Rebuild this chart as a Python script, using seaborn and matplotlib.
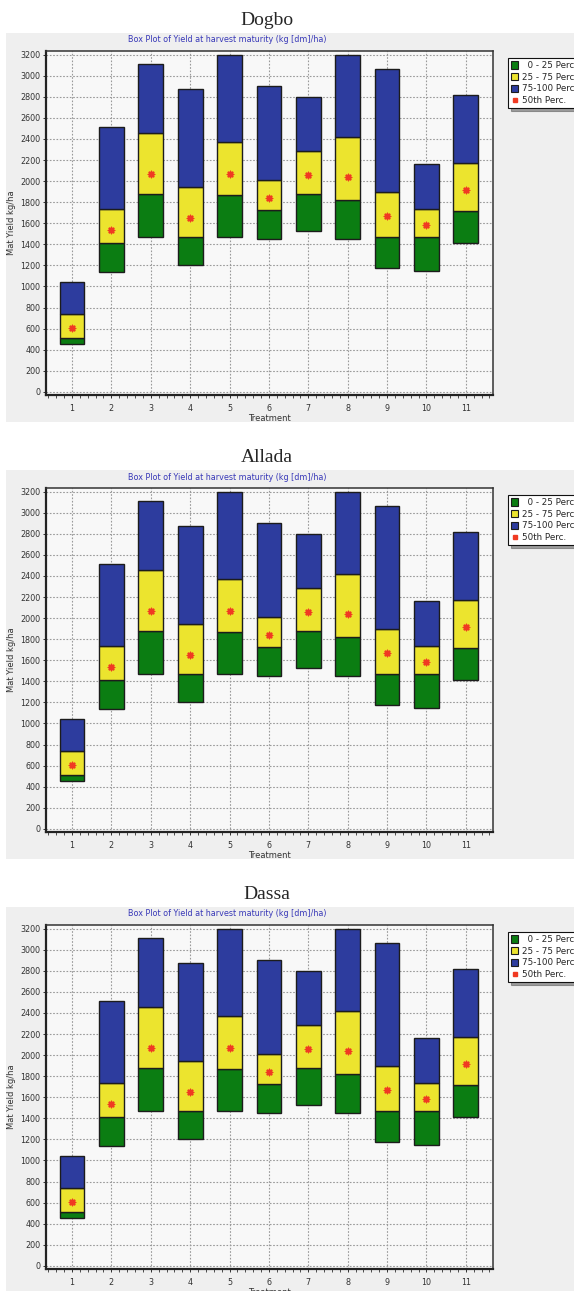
import numpy as np
import pandas as pd
import matplotlib
matplotlib.use("Agg")
import matplotlib.pyplot as plt
from matplotlib.patches import Rectangle, Patch
from matplotlib.lines import Line2D
from matplotlib.ticker import MultipleLocator
import seaborn as sns

# ---------------- data ----------------
sites = ["Dogbo", "Allada", "Dassa"]
treatments = [1, 2, 3, 4, 5, 6, 7, 8, 9, 10, 11]
min_vals = [450, 1140, 1465, 1205, 1465, 1450, 1525, 1450, 1175, 1145, 1415]
p25_vals = [510, 1415, 1880, 1465, 1865, 1730, 1880, 1825, 1470, 1465, 1715]
p75_vals = [740, 1740, 2460, 1945, 2375, 2010, 2285, 2420, 1895, 1735, 2170]
max_vals = [1040, 2515, 3110, 2870, 3200, 2905, 2800, 3195, 3060, 2160, 2820]
median_vals = [605, 1540, 2065, 1650, 2065, 1840, 2055, 2035, 1665, 1580, 1920]
legend_labels = ["  0 - 25 Percentile", "25 - 75 Percentile", "75-100 Percentile", "50th Perc."]
subtitle = "Box Plot of Yield at harvest maturity (kg [dm]/ha)"
y_ticks = list(range(0, 3201, 200))

# ---------------- style ----------------
sns.set_style("ticks")
plt.rcParams["font.family"] = ["DejaVu Sans"]

GREEN = "#0b7d12"
YELLOW = "#ece42e"
BLUE = "#2d3c9e"
RED = "#f03a22"
EDGE = "#1c1c1c"

W, H = 574, 1291
fig = plt.figure(figsize=(W / 100, H / 100), dpi=100)
fig.patch.set_facecolor("white")

df = pd.DataFrame({
    "treatment": treatments,
    "min": min_vals, "p25": p25_vals, "p75": p75_vals, "max": max_vals,
    "median": median_vals,
})
df["h_low"] = df["p25"] - df["min"]
df["h_mid"] = df["p75"] - df["p25"]
df["h_top"] = df["max"] - df["p75"]

OFFSET = 437


def fx(px):
    return px / W


def fy(py):
    return 1 - py / H


for i, site in enumerate(sites):
    o = OFFSET * i
    # grey panel background
    fig.patches.append(Rectangle((fx(6), fy(422 + o)), fx(W - 6), (422 - 33) / H,
                                 transform=fig.transFigure, facecolor="#efefef",
                                 edgecolor="none", zorder=-5))
    fig.text(fx(267), fy(25 + o), site, ha="center", va="baseline",
             fontsize=14, family=["Liberation Serif", "DejaVu Serif"])
    fig.text(fx(227), fy(40 + o), subtitle, ha="center", va="center",
             fontsize=5.8, color="#3838b8")

    ax = fig.add_axes([fx(46), fy(395 + o), (492.6 - 46) / W, (395 - 51) / H])
    ax.set_facecolor("#f8f8f8")
    ax.set_axisbelow(True)

    for col, bottom_col, color in [("h_low", "min", GREEN),
                                    ("h_mid", "p25", YELLOW),
                                    ("h_top", "p75", BLUE)]:
        sns.barplot(data=df, x="treatment", y=col, native_scale=True,
                    width=0.63, color=color, edgecolor=EDGE, linewidth=1.0,
                    errorbar=None, bottom=df[bottom_col].to_numpy(),
                    saturation=1, ax=ax, zorder=2)

    sns.scatterplot(data=df, x="treatment", y="median", marker=(8, 2, 0),
                    s=20, color=RED, linewidth=1.1, ax=ax, zorder=4)

    ax.set_xlim(0.34, 11.68)
    ax.set_ylim(-30, 3235)
    ax.set_xticks(treatments)
    ax.set_xticklabels([str(t) for t in treatments])
    ax.set_yticks(y_ticks)
    ax.xaxis.set_minor_locator(MultipleLocator(0.2))
    ax.tick_params(axis="both", which="major", labelsize=5.8, labelcolor="#333333",
                   length=2.5, width=0.7, color="#333333")
    ax.tick_params(axis="x", which="major", pad=4)
    ax.tick_params(axis="y", which="major", pad=1.5)
    ax.tick_params(axis="x", which="minor", length=1.8, width=0.6, color="#333333")
    ax.grid(True, which="major", color="#9a9a9a", linewidth=0.8,
            linestyle=(0, (1.5, 1.5)))
    for side in ["left", "bottom"]:
        ax.spines[side].set_linewidth(1.6)
        ax.spines[side].set_color("#222222")
    for side in ["top", "right"]:
        ax.spines[side].set_visible(True)
        ax.spines[side].set_linewidth(1.1)
        ax.spines[side].set_color("#333333")

    ax.set_xlabel("Treatment", fontsize=6, color="#333333", labelpad=1)
    ax.set_ylabel("Mat Yield kg/ha", fontsize=6, color="#333333", labelpad=3)

    handles = [
        Patch(facecolor=GREEN, edgecolor=EDGE, linewidth=0.8),
        Patch(facecolor=YELLOW, edgecolor=EDGE, linewidth=0.8),
        Patch(facecolor=BLUE, edgecolor=EDGE, linewidth=0.8),
        Line2D([], [], marker="s", linestyle="none", color=RED, markersize=3),
    ]
    leg = fig.legend(handles, legend_labels, loc="upper left",
                     bbox_to_anchor=(fx(508), fy(58 + o)), fontsize=6.3,
                     frameon=True, fancybox=False, shadow=True,
                     borderpad=0.35, handlelength=0.8, handleheight=0.9,
                     handletextpad=0.45, labelspacing=0.3, borderaxespad=0)
    leg.get_frame().set_edgecolor("#111111")
    leg.get_frame().set_linewidth(0.8)
    leg.get_frame().set_facecolor("white")

fig.savefig("out.png", dpi=100)
